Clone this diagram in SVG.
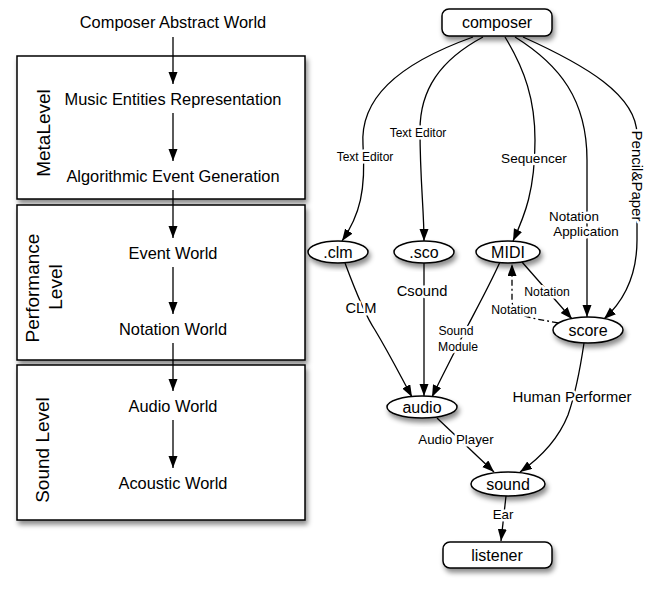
<svg xmlns="http://www.w3.org/2000/svg" width="650" height="600" viewBox="0 0 650 600">
<style>
text{font-family:"Liberation Sans",Arial,sans-serif;fill:#000}
.main{font-size:16.4px;text-anchor:middle}
.lvl{font-size:19px;text-anchor:middle}
.nl{font-size:16px;text-anchor:middle}
.el{font-size:12.2px;text-anchor:middle;paint-order:stroke;stroke:#fff;stroke-width:5px;stroke-linejoin:round}
.box{fill:#fff;stroke:#000;stroke-width:1.5;filter:url(#sh)}
.node{fill:#fff;stroke:#000;stroke-width:1.5;filter:url(#sh)}
.c{fill:none;stroke:#000;stroke-width:1.3;marker-end:url(#ah)}
</style>
<defs>
<filter id="sh" x="-20%" y="-20%" width="150%" height="160%">
<feDropShadow dx="2" dy="4" stdDeviation="2.5" flood-color="#000" flood-opacity="0.45"/>
</filter>
<marker id="ah" markerUnits="userSpaceOnUse" markerWidth="13" markerHeight="10" refX="12" refY="4.5" orient="auto">
<path d="M0,0 L12,4.5 L0,9 z" fill="#000"/>
</marker>
</defs>
<rect width="650" height="600" fill="#fff"/>

<g id="level-boxes">
<rect id="metalevel" class="box" x="17" y="56" width="288" height="143"/>
<rect id="performance-level" class="box" x="17" y="205" width="288" height="155"/>
<rect id="sound-level" class="box" x="17" y="365" width="288" height="155"/>
<text class="lvl" transform="translate(43,133) rotate(-90)" dy="0.35em">MetaLevel</text>
<text class="lvl" transform="translate(32,288) rotate(-90)" dy="0.35em">Performance</text>
<text class="lvl" transform="translate(55,287) rotate(-90)" dy="0.35em">Level</text>
<text class="lvl" transform="translate(42,450) rotate(-90)" dy="0.35em">Sound Level</text>
</g>

<g id="left-nodes">
<g id="composer-abstract-world"><text class="main" x="173" y="28">Composer Abstract World</text></g>
<g id="music-entities"><text class="main" x="173" y="105">Music Entities Representation</text></g>
<g id="algorithmic-event"><text class="main" x="173" y="182">Algorithmic Event Generation</text></g>
<g id="event-world"><text class="main" x="173" y="259">Event World</text></g>
<g id="notation-world"><text class="main" x="173" y="335">Notation World</text></g>
<g id="audio-world"><text class="main" x="173" y="412">Audio World</text></g>
<g id="acoustic-world"><text class="main" x="173" y="489">Acoustic World</text></g>
</g>

<g id="connectors">
<path class="c" d="M173 37 L173 84"/>
<path class="c" d="M173 113 L173 161"/>
<path class="c" d="M173 190 L173 238"/>
<path class="c" d="M173 267 L173 314"/>
<path class="c" d="M173 343 L173 391"/>
<path class="c" d="M173 420 L173 468"/>

<path class="c" d="M473 37 C395 65 360 100 363 145 C366 190 360 215 342 241"/>
<path class="c" d="M483 37 C440 60 420 90 420 130 C420 180 424 210 424 241"/>
<path class="c" d="M505 37 C525 70 535 100 535 140 C535 190 525 215 513 241"/>
<path class="c" d="M515 37 C560 65 587 100 587 160 L587 317"/>
<path class="c" d="M523 37 C585 65 637 95 637 135 L637 240 C637 275 625 300 604 319"/>
<path class="c" d="M345 263 C355 290 365 315 375 330 C390 355 400 375 412 397"/>
<path class="c" d="M424 263 L424 396"/>
<path class="c" d="M500 262 C485 295 470 320 458 345 C448 365 440 380 432 397"/>
<path class="c" d="M522 262 L572 319"/>
<path class="c" d="M558 323 C535 318 512 318 512 300 L512 264" stroke-dasharray="6,3,2,3"/>
<path class="c" d="M584 343 C580 370 575 395 568 415 C558 440 540 458 520 472"/>
<path class="c" d="M437 418 L494 472"/>
<path class="c" d="M506 496 L501 541"/>

<text class="el" x="365" y="161" style="font-size:12px">Text Editor</text>
<text class="el" x="418" y="137" style="font-size:12px">Text Editor</text>
<text class="el" x="534" y="163" style="font-size:13.6px">Sequencer</text>
<text class="el" x="574" y="221" style="font-size:13.4px">Notation</text>
<text class="el" x="586" y="236" style="font-size:13.4px">Application</text>
<text class="el" transform="translate(637,176) rotate(90)" dy="0.35em" style="font-size:15px">Pencil&amp;Paper</text>
<text class="el" x="361" y="313" style="font-size:14.7px">CLM</text>
<text class="el" x="422" y="296" style="font-size:14.7px">Csound</text>
<text class="el" x="456" y="335">Sound</text>
<text class="el" x="458" y="351">Module</text>
<text class="el" x="547" y="296">Notation</text>
<text class="el" x="514" y="314">Notation</text>
<text class="el" x="572" y="402" style="font-size:15px">Human Performer</text>
<text class="el" x="456" y="444" style="font-size:13.3px">Audio Player</text>
<text class="el" x="503" y="519" style="font-size:13.3px">Ear</text>
</g>

<g id="composer"><rect class="node" x="442" y="9" width="110" height="27" rx="7"/><text class="nl" x="497" y="28">composer</text></g>
<g id="clm"><ellipse class="node" cx="338" cy="252" rx="30" ry="11"/><text class="nl" x="338" y="258">.clm</text></g>
<g id="sco"><ellipse class="node" cx="424" cy="252" rx="30" ry="11"/><text class="nl" x="424" y="258">.sco</text></g>
<g id="midi"><ellipse class="node" cx="508" cy="252" rx="32" ry="11"/><text class="nl" x="508" y="258">MIDI</text></g>
<g id="score"><ellipse class="node" cx="588" cy="330" rx="35" ry="13"/><text class="nl" x="588" y="336">score</text></g>
<g id="audio"><ellipse class="node" cx="422" cy="407" rx="35" ry="11"/><text class="nl" x="422" y="413">audio</text></g>
<g id="sound"><ellipse class="node" cx="508" cy="484" rx="37" ry="12"/><text class="nl" x="508" y="490">sound</text></g>
<g id="listener"><rect class="node" x="443" y="542" width="109" height="26" rx="7"/><text class="nl" x="497" y="561">listener</text></g>
</svg>
